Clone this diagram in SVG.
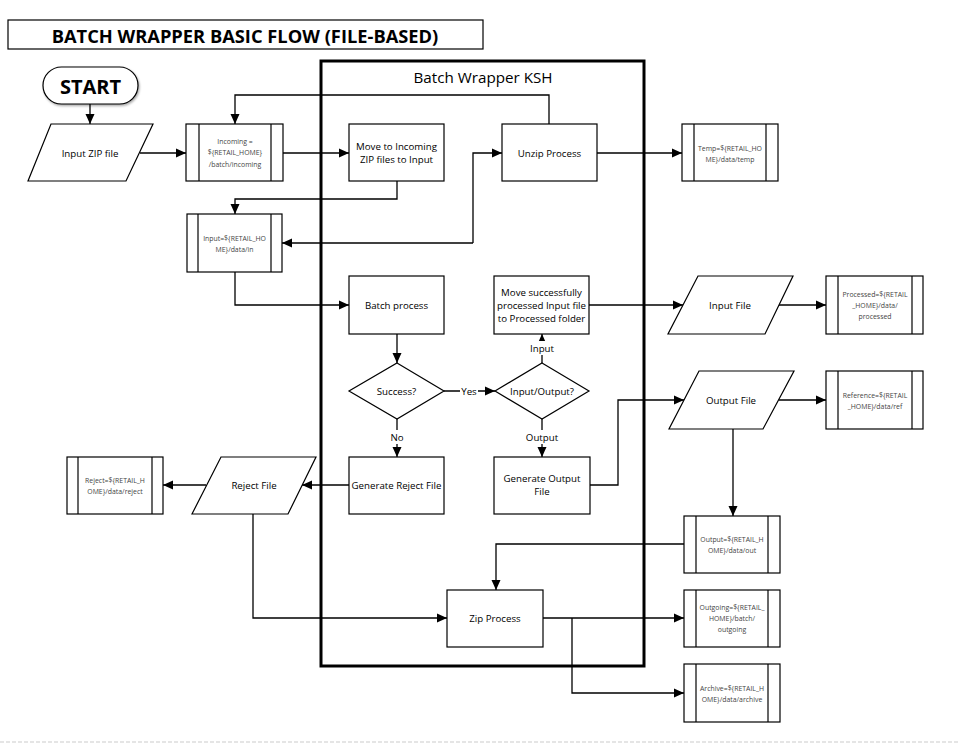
<svg xmlns="http://www.w3.org/2000/svg" width="958" height="745" viewBox="0 0 958 745">
<style>
.box{fill:#fff;stroke:#000;stroke-width:1.2}
.in{stroke:#000;stroke-width:1.2}
.t{font-family:"Open Sans","Liberation Sans",sans-serif;font-size:9.7px;fill:#000;text-anchor:middle;dominant-baseline:central}
.s{font-family:"Open Sans","Liberation Sans",sans-serif;font-size:6.9px;fill:#444;text-anchor:middle;dominant-baseline:central}
.c{fill:none;stroke:#000;stroke-width:1.3}
.lbl{font-family:"Open Sans","Liberation Sans",sans-serif;font-size:9.7px;fill:#000;text-anchor:middle;dominant-baseline:central}
</style>
<defs>
<marker id="a" markerUnits="userSpaceOnUse" markerWidth="10" markerHeight="10" viewBox="0 0 10 10" refX="10" refY="5" orient="auto">
<path d="M0,0.5 L10,5 L0,9.5 Z" fill="#000"/>
</marker>
<filter id="sh" x="-20%" y="-20%" width="140%" height="140%">
<feDropShadow dx="1" dy="1.5" stdDeviation="1.2" flood-color="#000" flood-opacity="0.35"/>
</filter>
</defs>
<rect width="958" height="745" fill="#fff"/>
<line x1="0" y1="742" x2="958" y2="742" stroke="#ddd" stroke-width="1.5" stroke-dasharray="4,2"/>

<g id="title">
<rect x="8" y="20" width="475" height="29" fill="#fff" stroke="#000" stroke-width="1.2"/>
<text x="245" y="35" font-family="Open Sans, Liberation Sans, sans-serif" font-size="18.3" font-weight="bold" text-anchor="middle" dominant-baseline="central">BATCH WRAPPER BASIC FLOW (FILE-BASED)</text>
</g>

<g id="container">
<rect x="321" y="61" width="323" height="605" fill="none" stroke="#000" stroke-width="3"/>
<text x="483" y="77" font-family="Open Sans, Liberation Sans, sans-serif" font-size="15.2" text-anchor="middle" dominant-baseline="central">Batch Wrapper KSH</text>
</g>

<g id="connectors">
<path class="c" d="M90,104 V124" marker-end="url(#a)"/>
<path class="c" d="M140,153 H186" marker-end="url(#a)"/>
<path class="c" d="M283,153 H349" marker-end="url(#a)"/>
<path class="c" d="M549,124 V95 H235 V124" marker-end="url(#a)"/>
<path class="c" d="M597,153 H682" marker-end="url(#a)"/>
<path class="c" d="M397,181 V199 H235 V214" marker-end="url(#a)"/>
<path class="c" d="M473,243 V153 H502" marker-end="url(#a)"/>
<path class="c" d="M473,243 H282" marker-end="url(#a)"/>
<path class="c" d="M235,272 V305 H349" marker-end="url(#a)"/>
<path class="c" d="M397,334 V363" marker-end="url(#a)"/>
<path class="c" d="M444,391 H495" marker-end="url(#a)"/>
<path class="c" d="M542,363 V334" marker-end="url(#a)"/>
<path class="c" d="M397,419 V457" marker-end="url(#a)"/>
<path class="c" d="M542,419 V457" marker-end="url(#a)"/>
<path class="c" d="M589,305 H683" marker-end="url(#a)"/>
<path class="c" d="M779,305 H826" marker-end="url(#a)"/>
<path class="c" d="M590,485 H618 V400 H684" marker-end="url(#a)"/>
<path class="c" d="M779,400 H826" marker-end="url(#a)"/>
<path class="c" d="M733,429 V516" marker-end="url(#a)"/>
<path class="c" d="M349,485 H302" marker-end="url(#a)"/>
<path class="c" d="M206,485 H163" marker-end="url(#a)"/>
<path class="c" d="M253,514 V618 H447" marker-end="url(#a)"/>
<path class="c" d="M684,544 H496 V590" marker-end="url(#a)"/>
<path class="c" d="M543,618 H684" marker-end="url(#a)"/>
<path class="c" d="M572,618 V693 H684" marker-end="url(#a)"/>
<rect x="460" y="384" width="18" height="14" fill="#fff"/>
<text class="lbl" x="469" y="391">Yes</text>
<rect x="527" y="341" width="30" height="14" fill="#fff"/>
<text class="lbl" x="542" y="348">Input</text>
<rect x="389" y="430" width="16" height="14" fill="#fff"/>
<text class="lbl" x="397" y="437">No</text>
<rect x="524" y="430" width="36" height="14" fill="#fff"/>
<text class="lbl" x="542" y="437">Output</text>
</g>

<g id="start">
<rect x="43" y="67" width="95" height="37" rx="18.5" fill="#fff" stroke="#000" stroke-width="1.2" filter="url(#sh)"/>
<text x="90.5" y="86" font-family="Open Sans, Liberation Sans, sans-serif" font-size="20" font-weight="bold" text-anchor="middle" dominant-baseline="central">START</text>
</g>

<g id="input-zip">
<polygon class="box" points="51,124 153,124 126,181 28,181"/>
<text class="t" x="90" y="153">Input ZIP file</text>
</g>

<g id="incoming">
<rect class="box" x="186" y="124" width="97" height="57"/>
<line class="in" x1="199" y1="124" x2="199" y2="181"/><line class="in" x1="271" y1="124" x2="271" y2="181"/>
<text class="s" x="235" y="141">Incoming =</text>
<text class="s" x="235" y="152.5">${RETAIL_HOME}</text>
<text class="s" x="235" y="164">/batch/incoming</text>
</g>

<g id="move-incoming">
<rect class="box" x="349" y="124" width="95" height="57"/>
<text class="t" x="396.5" y="146">Move to Incoming</text>
<text class="t" x="396.5" y="159">ZIP files to Input</text>
</g>

<g id="unzip">
<rect class="box" x="502" y="124" width="95" height="57"/>
<text class="t" x="549.5" y="153">Unzip Process</text>
</g>

<g id="temp">
<rect class="box" x="682" y="124" width="96" height="57"/>
<line class="in" x1="694" y1="124" x2="694" y2="181"/><line class="in" x1="766" y1="124" x2="766" y2="181"/>
<text class="s" x="730" y="148">Temp=${RETAIL_HO</text>
<text class="s" x="730" y="159">ME}/data/temp</text>
</g>

<g id="input-dir">
<rect class="box" x="187" y="214" width="95" height="58"/>
<line class="in" x1="198" y1="214" x2="198" y2="272"/><line class="in" x1="271" y1="214" x2="271" y2="272"/>
<text class="s" x="234.5" y="238">Input=${RETAIL_HO</text>
<text class="s" x="234.5" y="249">ME}/data/in</text>
</g>

<g id="batch-process">
<rect class="box" x="349" y="276" width="95" height="58"/>
<text class="t" x="396.5" y="305">Batch process</text>
</g>

<g id="move-processed">
<rect class="box" x="494" y="276" width="95" height="58"/>
<text class="t" x="541.5" y="292">Move successfully</text>
<text class="t" x="541.5" y="305">processed Input file</text>
<text class="t" x="541.5" y="318">to Processed folder</text>
</g>

<g id="success">
<polygon class="box" points="397,363 444,391 397,419 349,391"/>
<text class="t" x="396.5" y="391">Success?</text>
</g>

<g id="input-output">
<polygon class="box" points="542,363 589,391 542,419 495,391"/>
<text class="t" x="542" y="391">Input/Output?</text>
</g>

<g id="gen-reject">
<rect class="box" x="349" y="457" width="95" height="57"/>
<text class="t" x="396.5" y="485.5">Generate Reject File</text>
</g>

<g id="gen-output">
<rect class="box" x="494" y="457" width="96" height="57"/>
<text class="t" x="542" y="478.5">Generate Output</text>
<text class="t" x="542" y="491.5">File</text>
</g>

<g id="input-file">
<polygon class="box" points="698,276 793,276 765,334 668,334"/>
<text class="t" x="730" y="305">Input File</text>
</g>

<g id="processed">
<rect class="box" x="826" y="276" width="97" height="58"/>
<line class="in" x1="838" y1="276" x2="838" y2="334"/><line class="in" x1="912" y1="276" x2="912" y2="334"/>
<text class="s" x="875" y="294">Processed=${RETAIL</text>
<text class="s" x="875" y="305">_HOME}/data/</text>
<text class="s" x="875" y="316">processed</text>
</g>

<g id="output-file">
<polygon class="box" points="699,371 794,371 763,429 669,429"/>
<text class="t" x="731" y="400">Output File</text>
</g>

<g id="reference">
<rect class="box" x="826" y="371" width="97" height="58"/>
<line class="in" x1="838" y1="371" x2="838" y2="429"/><line class="in" x1="912" y1="371" x2="912" y2="429"/>
<text class="s" x="875" y="395">Reference=${RETAIL</text>
<text class="s" x="875" y="406">_HOME}/data/ref</text>
</g>

<g id="reject-file">
<polygon class="box" points="221,457 316,457 288,514 192,514"/>
<text class="t" x="254" y="485.5">Reject File</text>
</g>

<g id="reject-dir">
<rect class="box" x="67" y="457" width="96" height="57"/>
<line class="in" x1="78" y1="457" x2="78" y2="514"/><line class="in" x1="152" y1="457" x2="152" y2="514"/>
<text class="s" x="115" y="480">Reject=${RETAIL_H</text>
<text class="s" x="115" y="491">OME}/data/reject</text>
</g>

<g id="output-dir">
<rect class="box" x="684" y="516" width="96" height="57"/>
<line class="in" x1="696" y1="516" x2="696" y2="573"/><line class="in" x1="768" y1="516" x2="768" y2="573"/>
<text class="s" x="732" y="539">Output=${RETAIL_H</text>
<text class="s" x="732" y="550">OME}/data/out</text>
</g>

<g id="zip">
<rect class="box" x="447" y="590" width="96" height="57"/>
<text class="t" x="495" y="618.5">Zip Process</text>
</g>

<g id="outgoing">
<rect class="box" x="684" y="590" width="96" height="57"/>
<line class="in" x1="696" y1="590" x2="696" y2="647"/><line class="in" x1="768" y1="590" x2="768" y2="647"/>
<text class="s" x="732" y="607">Outgoing=${RETAIL_</text>
<text class="s" x="732" y="618">HOME}/batch/</text>
<text class="s" x="732" y="629">outgoing</text>
</g>

<g id="archive">
<rect class="box" x="684" y="664" width="96" height="58"/>
<line class="in" x1="696" y1="664" x2="696" y2="722"/><line class="in" x1="768" y1="664" x2="768" y2="722"/>
<text class="s" x="732" y="688">Archive=${RETAIL_H</text>
<text class="s" x="732" y="699">OME}/data/archive</text>
</g>
</svg>
